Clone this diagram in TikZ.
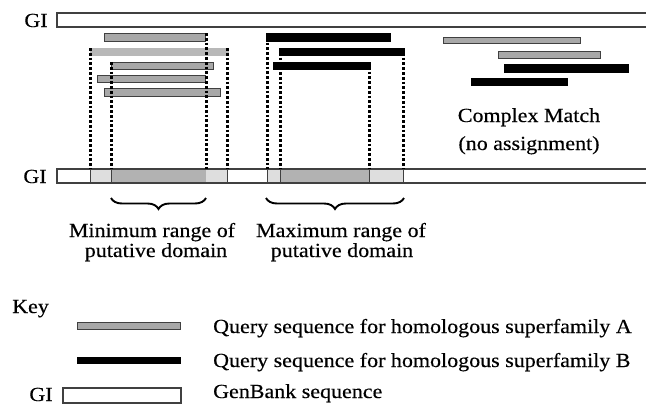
\documentclass[tikz,border=0pt]{standalone}
\usepackage{fontspec}
\setmainfont{Liberation Serif}[FakeStretch=1.1,FakeBold=0.4]
\usetikzlibrary{decorations.pathreplacing}
\definecolor{agray}{gray}{0.66}
\definecolor{agrayl}{gray}{0.72}
\definecolor{segmid}{gray}{0.70}
\definecolor{seglight}{gray}{0.87}
\definecolor{edge}{gray}{0.25}
\begin{document}
\begin{tikzpicture}[x=1pt,y=-1pt,
  font=\fontsize{20}{24}\selectfont,
  seqbar/.style={rectangle, inner sep=0pt, outer sep=0pt, anchor=north west, line width=0.8pt},
  abar/.style={seqbar, fill=agray, draw=edge},
  abarl/.style={seqbar, fill=agrayl, draw=agrayl},
  bbar/.style={seqbar, fill=black, draw=black},
  gibar/.style={seqbar, fill=white, draw=edge, line width=1.1pt},
  dotln/.style={line width=3pt, dash pattern=on 2.8pt off 2pt},
  seg/.style={draw=edge, line width=0.9pt},
  brc/.style={decorate, decoration={brace, mirror, amplitude=11pt}, line width=1.9pt},
  lbl/.style={anchor=base, inner sep=0pt},
  lblw/.style={anchor=base west, inner sep=0pt}]
\useasboundingbox (0,0) rectangle (646,405);

% top GenBank sequence
\node[lbl] (gitop) at (36,27) {GI};
\node[gibar, minimum width=600pt, minimum height=14pt] (git) at (57,13) {};

% bottom GenBank sequence with domain segments
\node[lbl] (gibot) at (35,183) {GI};
\node[gibar, minimum width=600pt, minimum height=14pt] (gib) at (57,169) {};
\fill[seglight] (90,169) rectangle (111,183);
\fill[segmid] (111,169) rectangle (206,183);
\fill[seglight] (206,169) rectangle (227,183);
\fill[seglight] (267,169) rectangle (280,183);
\fill[segmid] (280,169) rectangle (369,183);
\fill[seglight] (369,169) rectangle (403,183);
\draw[edge, line width=1.1pt] (57,169) rectangle (660,183);
\foreach \xx in {90,111,227,267,280,369,403}{
  \draw[seg] (\xx,169) -- (\xx,183);
}

% superfamily A hits (minimum range)
\node[abar, minimum width=101pt, minimum height=8pt] (g1) at (104,33) {};
\node[abarl, minimum width=138pt, minimum height=7pt] (g2) at (90,48) {};
\node[abar, minimum width=102pt, minimum height=7pt] (g3) at (111,62) {};
\node[abar, minimum width=108pt, minimum height=7pt] (g4) at (97,75) {};
\node[abar, minimum width=116pt, minimum height=8pt] (g5) at (104,88) {};

% superfamily B hits (maximum range)
\node[bbar, minimum width=124pt, minimum height=8pt] (b1) at (266,33) {};
\node[bbar, minimum width=125pt, minimum height=7pt] (b2) at (279,48) {};
\node[bbar, minimum width=97pt, minimum height=7pt] (b3) at (273,62) {};

% complex match
\node[abar, minimum width=137pt, minimum height=6pt] (r1) at (443,37) {};
\node[abar, minimum width=102pt, minimum height=7pt] (r2) at (498,51) {};
\node[bbar, minimum width=124pt, minimum height=8pt] (r3) at (504,64) {};
\node[bbar, minimum width=96pt, minimum height=7pt] (r4) at (471,78) {};
\node[lbl] (cm1) at (529,122) {Complex Match};
\node[lbl] (cm2) at (529,150) {(no assignment)};

% dotted projections
\draw[dotln] (g2.north west) -- (g2.north west |- gib.north);
\draw[dotln] (g3.north west) -- (g3.north west |- gib.north);
\draw[dotln] ([xshift=1pt]g1.north east) -- ([xshift=1pt]g1.north east |- gib.north);
\draw[dotln] ([xshift=-1pt]g2.north east) -- ([xshift=-1pt]g2.north east |- gib.north);
\draw[dotln] ([xshift=1pt]b1.north west) -- ([xshift=1pt]b1.north west |- gib.north);
\draw[dotln] ([xshift=1pt]b2.north west) -- ([xshift=1pt]b2.north west |- gib.north);
\draw[dotln] ([xshift=-1pt]b3.north east) -- ([xshift=-1pt]b3.north east |- gib.north);
\draw[dotln] ([xshift=-1pt]b2.north east) -- ([xshift=-1pt]b2.north east |- gib.north);

% braces
\coordinate (mna) at (111,198);
\coordinate (mnb) at (206,198);
\coordinate (mxa) at (266,198);
\coordinate (mxb) at (404,198);
\draw[brc] (mna) -- (mnb);
\draw[brc] (mxa) -- (mxb);
\node[lbl] (mn1) at (152,237) {Minimum range of};
\node[lbl] (mn2) at (156,257) {putative domain};
\node[lbl] (mx1) at (341,237) {Maximum range of};
\node[lbl] (mx2) at (342,257) {putative domain};

% key
\node[lblw] (key) at (12,313) {Key};
\node[abar, minimum width=103pt, minimum height=7pt] (ka) at (77,322) {};
\node[bbar, minimum width=103pt, minimum height=6pt] (kb) at (77,357) {};
\node[gibar, minimum width=118pt, minimum height=15pt] (kg) at (63,388) {};
\node[lbl] (kgi) at (41,401) {GI};
\node[lblw] (ta) at (213,333) {Query sequence for homologous superfamily A};
\node[lblw] (tb) at (213,367) {Query sequence for homologous superfamily B};
\node[lblw] (tg) at (213,398) {GenBank sequence};
\end{tikzpicture}
\end{document}
